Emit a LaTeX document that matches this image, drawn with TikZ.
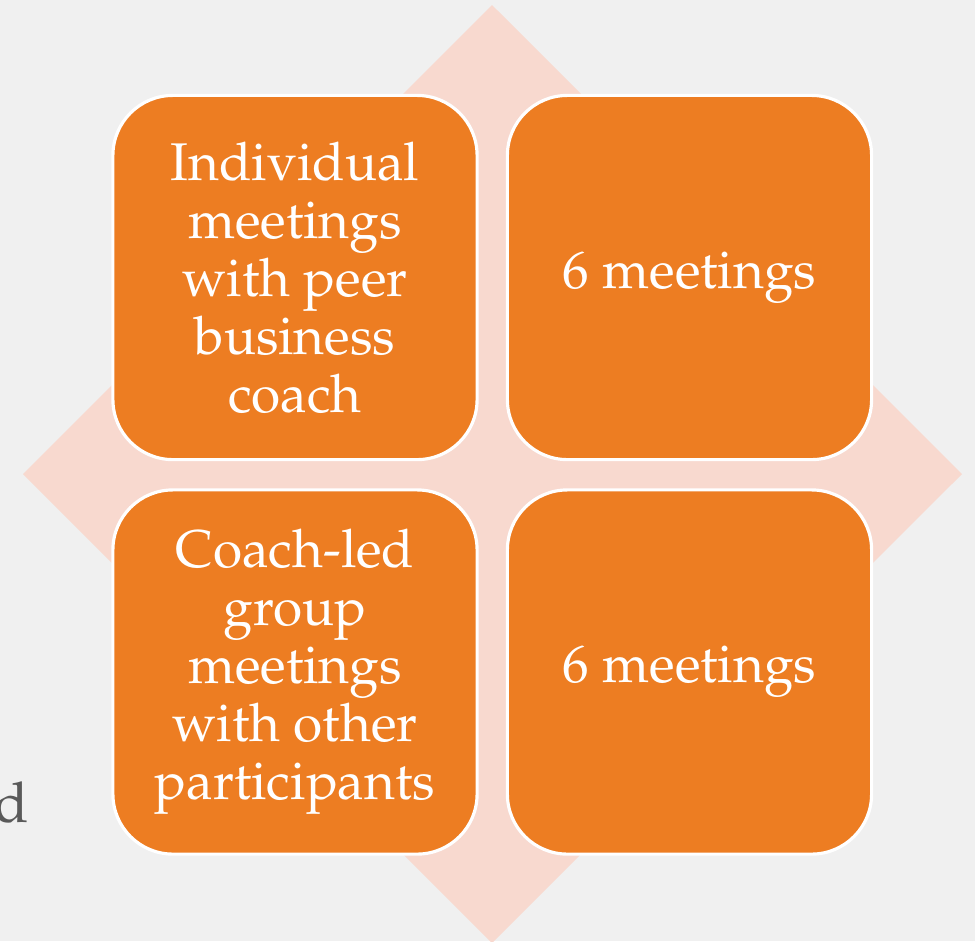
\documentclass[tikz,border=0pt]{standalone}
\usepackage[T1]{fontenc}
\usepackage{mathpazo}
\usepackage{tikz}
\usetikzlibrary{shapes}
\usetikzlibrary{positioning}

\definecolor{bgGray}{RGB}{240,240,240}
\definecolor{diaPink}{RGB}{248,217,207}
\definecolor{boxOrange}{RGB}{237,125,34}
\definecolor{txtGray}{RGB}{89,89,89}

\begin{document}
\begin{tikzpicture}[x=0.01cm,y=-0.01cm]
			\tikzset{quad/.style = {shape=rectangle,draw=white,line width=0.9pt,
					fill=boxOrange,rounded corners=0.6cm,
					minimum width=3.64cm,minimum height=3.64cm,
					inner sep=0pt,align=center,
					text=white,font=\fontsize{15.1}{16.5}\selectfont}}
			\tikzset{backdia/.style = {fill=diaPink}}
			
			% background
			\fill[bgGray] (0,0) rectangle (975,941);
			\useasboundingbox (0,0) rectangle (975,941);
			\coordinate (n) at (492,5);
			\coordinate (e) at (962,474);
			\coordinate (s) at (492,943);
			\coordinate (w) at (23,474);
			\fill[backdia] (n) -- (e) -- (s) -- (w) -- cycle;
			
			% vertices
			\node[quad] (tl) at (295,277.5) {Individual\\ meetings\\ with peer\\ business\\ coach};
			\node[quad] (tr) at (689.5,277.5) {6 meetings};
			\node[quad] (bl) at (295,672) {Coach-led\\ group\\ meetings\\ with other\\ participants};
			\node[quad] (br) at (689.5,672) {6 meetings};
			
			% cut-off text
			\node[anchor=base east,inner sep=0pt,text=txtGray,
				font=\fontsize{16}{19}\selectfont] (cut) at (30,822) {d};
			
			\end{tikzpicture}
\end{document}
